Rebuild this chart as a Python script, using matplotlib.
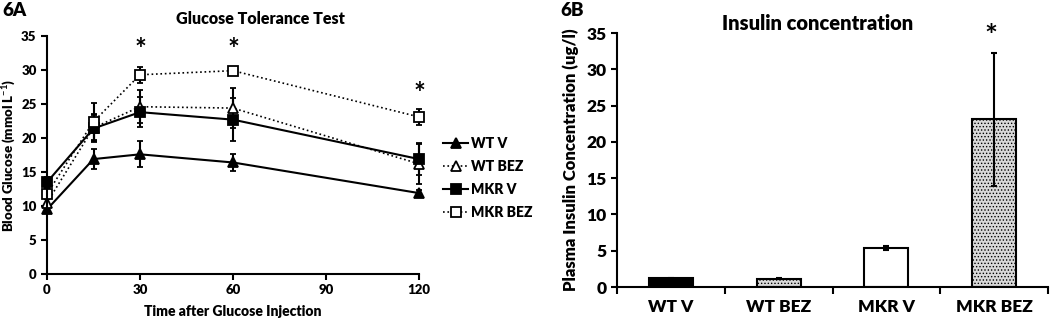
import matplotlib
matplotlib.use("Agg")
import matplotlib.pyplot as plt
import numpy as np

plt.rcParams['font.family'] = ['Lato', 'DejaVu Sans']
plt.rcParams['font.weight'] = 'bold'
plt.rcParams['hatch.linewidth'] = 0.6
plt.rcParams['mathtext.fontset'] = 'custom'
plt.rcParams['mathtext.rm'] = 'Lato:bold'
plt.rcParams['mathtext.bf'] = 'Lato:bold'
plt.rcParams['mathtext.default'] = 'bf'

# ---- Data: Glucose tolerance test ----
times = [0, 15, 30, 60, 120]
wt_v = [9.5, 16.9, 17.6, 16.4, 11.9]
wt_v_err = [0.6, 1.5, 1.9, 1.3, 0.5]
wt_bez = [10.5, 21.5, 24.6, 24.4, 16.2]
wt_bez_err = [0.6, 2.0, 2.4, 3.0, 2.9]
mkr_v = [13.5, 21.4, 23.8, 22.7, 16.9]
mkr_v_err = [0.8, 2.0, 2.2, 3.2, 2.3]
mkr_bez = [11.8, 22.4, 29.3, 29.9, 23.1]
mkr_bez_err = [0.8, 2.7, 1.2, 0.5, 1.2]
sig_times = [30, 60, 120]
sig_heights = [33.0, 33.0, 26.5]

# ---- Data: insulin ----
groups = ['WT V', 'WT BEZ', 'MKR V', 'MKR BEZ']
insulin = [1.2, 1.15, 5.35, 23.1]
insulin_err = [0.05, 0.1, 0.25, 9.2]
insulin_sig_height = 34.4

W, H = 1050, 322
fig = plt.figure(figsize=(10.5, 3.22), dpi=100)

# ---------------- Panel A ----------------
axA = fig.add_axes([47/W, 1-274/H, (419-47)/W, (274-36)/H])
series = [
    ('WT V', wt_v, wt_v_err, '^', 'black', '-'),
    ('WT BEZ', wt_bez, wt_bez_err, '^', 'white', ':'),
    ('MKR V', mkr_v, mkr_v_err, 's', 'black', '-'),
    ('MKR BEZ', mkr_bez, mkr_bez_err, 's', 'white', ':'),
]
handles = []
for name, vals, errs, mk, fc, ls in series:
    eb = axA.errorbar(times, vals, yerr=errs, fmt=mk, ls=ls, color='black',
                      mfc=fc, mec='black', mew=1.3, ms=7, lw=1.5 if ls == '-' else 1.2,
                      ecolor='black', elinewidth=1.5, capsize=2, capthick=1.5,
                      clip_on=False, label=name)
    for a in eb.lines[2] + eb.lines[1]:
        a.set_clip_on(False)
    eb.lines[0].set_clip_on(False)
    handles.append(eb.lines[0])

for t, h in zip(sig_times, sig_heights):
    axA.text(t, h, '*', ha='center', va='center', fontsize=20, fontweight='bold')

axA.set_xlim(0, 120)
axA.set_ylim(0, 35)
axA.set_xticks([0, 30, 60, 90, 120])
axA.set_yticks(np.arange(0, 36, 5))
for s in ['top', 'right']:
    axA.spines[s].set_visible(False)
for s in ['left', 'bottom']:
    axA.spines[s].set_linewidth(1.5)
axA.tick_params(direction='out', length=4, width=1.5, labelsize=9.5)
for lab in axA.get_xticklabels() + axA.get_yticklabels():
    lab.set_fontweight('heavy')
axA.set_xlabel('Time after Glucose Injection', fontsize=10, fontweight='heavy', labelpad=6)
axA.set_ylabel('Blood Glucose (mmol L$^{-1}$)', fontsize=9.5, fontweight='heavy')
axA.yaxis.set_label_coords((18-47)/(419-47), 0.5)
fig.text(260/W, 1-19/H, 'Glucose Tolerance Test', ha='center', va='center',
         fontsize=11.5, fontweight='heavy')
fig.text(2/W, 1-10/H, '6A', ha='left', va='center', fontsize=13.5, fontweight='heavy')

leg = fig.legend(handles, [s[0] for s in series], loc='center left',
                 bbox_to_anchor=(443/W, 1-178/H), bbox_transform=fig.transFigure,
                 frameon=False, fontsize=10, borderpad=0, borderaxespad=0,
                 handlelength=1.8, handletextpad=0.2, labelspacing=0.72)
for t in leg.get_texts():
    t.set_fontweight('heavy')

# ---------------- Panel B ----------------
axB = fig.add_axes([617/W, 1-287/H, (1048-617)/W, (287-33)/H])
x = np.arange(len(groups))
facecolors = ['black', '#d9d9d9', 'white', '#d9d9d9']
hatches = [None, '.....', None, '.....']
for i in range(len(groups)):
    axB.bar(x[i], insulin[i], width=0.41, color=facecolors[i], edgecolor='black',
            linewidth=1.5, hatch=hatches[i], zorder=2)
axB.errorbar(x, insulin, yerr=insulin_err, fmt='none', ecolor='black',
             elinewidth=1.5, capsize=2, capthick=1.5, zorder=3)
axB.text(x[3] - 0.03, insulin_sig_height, '*', ha='center', va='center',
         fontsize=22, fontweight='bold')
axB.set_xlim(-0.5, 3.5)
axB.set_ylim(0, 35)
axB.set_yticks(np.arange(0, 36, 5))
axB.set_xticks(x)
axB.set_xticklabels(groups)
axB.set_xticks(np.arange(-0.5, 3.6, 1.0), minor=True)
axB.tick_params(axis='x', which='major', length=0, pad=9, labelsize=12.5)
axB.tick_params(axis='x', which='minor', length=5, width=1.5, direction='out')
axB.tick_params(axis='y', direction='out', length=4, width=1.5, labelsize=12.5)
for lab in axB.get_xticklabels() + axB.get_yticklabels():
    lab.set_fontweight('heavy')
for s in ['top', 'right']:
    axB.spines[s].set_visible(False)
for s in ['left', 'bottom']:
    axB.spines[s].set_linewidth(1.5)
axB.set_ylabel('Plasma Insulin Concentration (ug/l)', fontsize=12, fontweight='heavy')
axB.yaxis.set_label_coords((579-617)/(1048-617), 0.5)
fig.text(818/W, 1-23/H, 'Insulin concentration', ha='center', va='center',
         fontsize=14.5, fontweight='heavy')
fig.text(560/W, 1-10/H, '6B', ha='left', va='center', fontsize=13.5, fontweight='heavy')

fig.savefig('out.png', dpi=100)
